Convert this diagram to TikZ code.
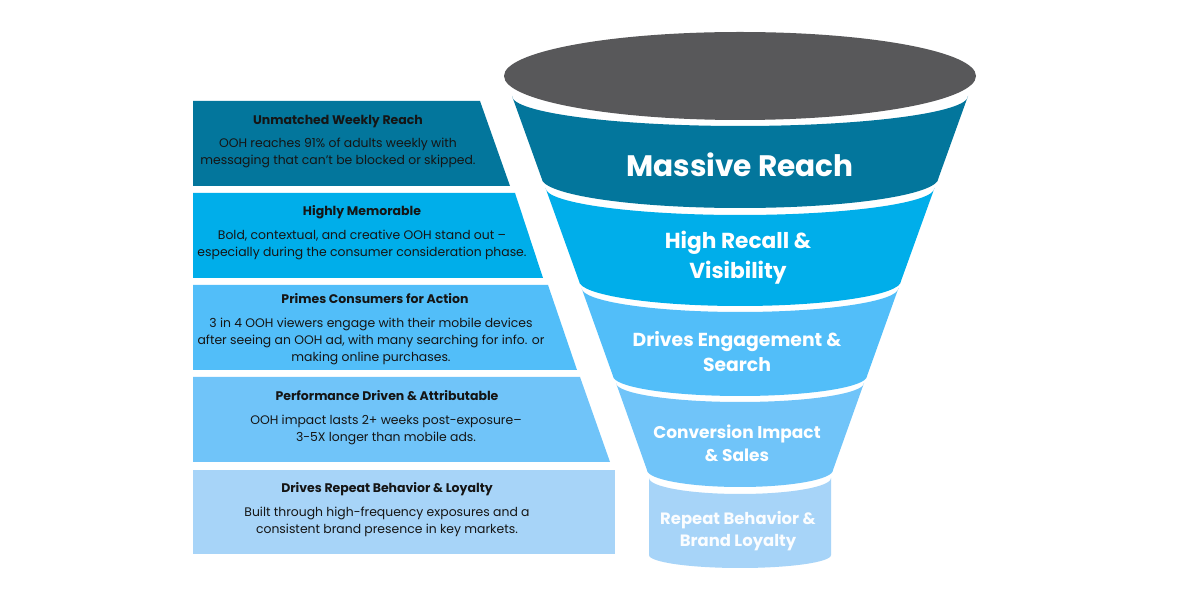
\documentclass[tikz,border=0pt]{standalone}
\usepackage{fontspec}
\setmainfont{Poppins}
\definecolor{cgray}{HTML}{58585A}
\definecolor{cone}{HTML}{03769C}
\definecolor{ctwo}{HTML}{00AEEA}
\definecolor{cthree}{HTML}{52BEF9}
\definecolor{cfour}{HTML}{70C4F9}
\definecolor{cfive}{HTML}{A7D4F8}
\definecolor{ctext}{HTML}{151515}
\tikzset{
  panel/.style={draw=none},
  ptitle/.style={font=\fontsize{12.5}{15}\selectfont\bfseries, text=ctext, inner sep=0pt},
  pbody/.style={font=\fontsize{12.4}{17}\selectfont, text=ctext, align=center, inner sep=0pt},
  ftext/.style={text=white, align=center, inner sep=0pt}
}
\begin{document}
\begin{tikzpicture}[x=1pt,y=1pt]
\useasboundingbox[fill=white] (0,0) rectangle (1200,600);
% left panels
\fill[cone]   (193,499) -- (480,499) -- (510,414) -- (193,414) -- cycle;
\fill[ctwo]   (193,407) -- (515,407) -- (543,322) -- (193,322) -- cycle;
\fill[cthree] (193,315) -- (548,315) -- (577,230) -- (193,230) -- cycle;
\fill[cfour]  (193,223) -- (580,223) -- (610,138) -- (193,138) -- cycle;
\fill[cfive]  (193,130) -- (615,130) -- (615,46) -- (193,46) -- cycle;
% funnel top ellipse
\fill[cgray] (740,524) ellipse[x radius=236pt, y radius=44pt];
% funnel bands
\fill[cone] (512,504) arc[start angle=180,end angle=360,x radius=228pt,y radius=30pt]
  -- (938.5,422) arc[start angle=0,end angle=-180,x radius=198.5pt,y radius=30pt] -- cycle;
\fill[ctwo] (545.5,412) arc[start angle=180,end angle=360,x radius=194.5pt,y radius=27pt]
  -- (901,319) arc[start angle=0,end angle=-180,x radius=161pt,y radius=25pt] -- cycle;
\fill[cthree] (581.5,312) arc[start angle=180,end angle=360,x radius=158.5pt,y radius=24pt]
  -- (867,224) arc[start angle=0,end angle=-180,x radius=127pt,y radius=20pt] -- cycle;
\fill[cfour] (616,217) arc[start angle=180,end angle=360,x radius=124pt,y radius=19pt]
  -- (833,130) arc[start angle=0,end angle=-180,x radius=93pt,y radius=17pt] -- cycle;
\fill[cfive] (649,122) arc[start angle=180,end angle=360,x radius=91pt,y radius=16pt]
  -- (831,45) arc[start angle=0,end angle=-180,x radius=91pt,y radius=13pt] -- cycle;
% panel texts
\node[ptitle] (t1) at (338,478) {Unmatched Weekly Reach};
\node[pbody] (b1) at (338,447) {OOH reaches 91\% of adults weekly with\\messaging that can't be blocked or skipped.};
\node[ptitle] (t2) at (362,388) {Highly Memorable};
\node[pbody] (b2) at (362,355) {Bold, contextual, and creative OOH stand out --\\especially during the consumer consideration phase.};
\node[ptitle] (t3) at (375,301) {Primes Consumers for Action};
\node[pbody] (b3) at (371,259) {3 in 4 OOH viewers engage with their mobile devices\\after seeing an OOH ad, with many searching for info. or\\making online purchases.};
\node[ptitle] (t4) at (387,204) {Performance Driven \& Attributable};
\node[pbody] (b4) at (386,170.5) {OOH impact lasts 2+ weeks post-exposure--\\3-5X longer than mobile ads.};
\node[ptitle] (t5) at (387,111) {Drives Repeat Behavior \& Loyalty};
\node[pbody] (b5) at (387,78.5) {Built through high-frequency exposures and a\\consistent brand presence in key markets.};
% funnel texts
\node[ftext, font=\fontsize{29.6}{36}\selectfont\bfseries] (f1) at (740,435) {Massive Reach};
\node[ftext, font=\fontsize{21.7}{30}\selectfont\bfseries] (f2) at (738,342) {High Recall \&\\Visibility};
\node[ftext, font=\fontsize{18.8}{25}\selectfont\bfseries] (f3) at (737,248) {Drives Engagement \&\\Search};
\node[ftext, font=\fontsize{17}{23}\selectfont\bfseries] (f4) at (737,156.5) {Conversion Impact\\\& Sales};
\node[ftext, font=\fontsize{16.4}{22}\selectfont\bfseries, text=white!96!cfive] (f5) at (738,69) {Repeat Behavior \&\\Brand Loyalty};
\end{tikzpicture}
\end{document}
